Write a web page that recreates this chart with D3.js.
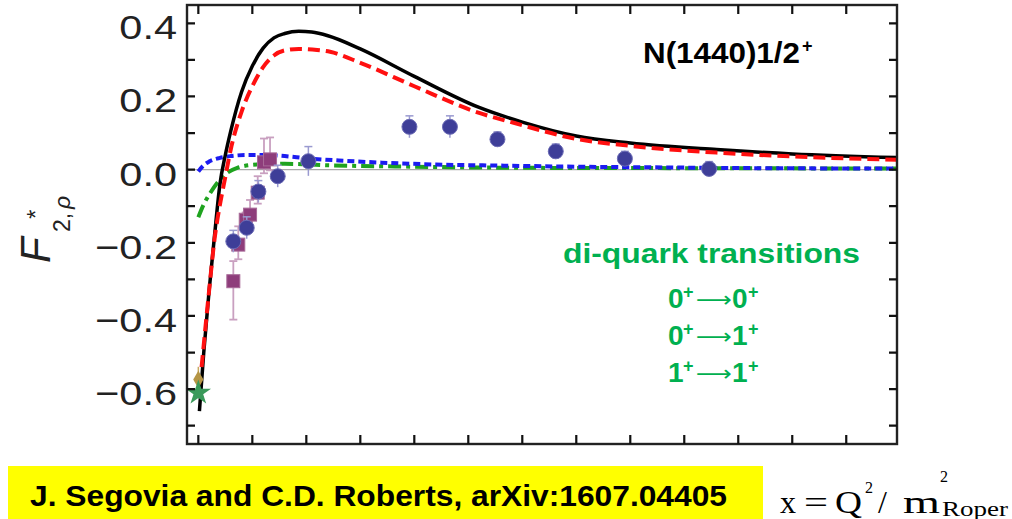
<!DOCTYPE html>
<html><head><meta charset="utf-8">
<script src="https://cdn.jsdelivr.net/npm/d3@7"></script>
<style>html,body{margin:0;padding:0;background:#fff;}svg{display:block;}</style>
</head><body>
<script>
// ---------- data ----------
const xTicks = [0,0.5,1,1.5,2,2.5,3,3.5,4,4.5,5,5.5,6];
const yTicks = [-0.7,-0.6,-0.5,-0.4,-0.3,-0.2,-0.1,0,0.1,0.2,0.3,0.4];
const yTickLabels = [0.4,0.2,0.0,-0.2,-0.4,-0.6];

const blackX = [0.01,0.05,0.1,0.15,0.2,0.25,0.3,0.4,0.5,0.6,0.7,0.8,0.93,1.05,1.2,1.5,2.0,2.6,3.0,3.5,4.0,4.8,5.5,6.47];
const blackY = [-0.66,-0.50,-0.33,-0.18,-0.04,0.04,0.105,0.212,0.283,0.332,0.36,0.372,0.378,0.376,0.366,0.33,0.255,0.17,0.13,0.092,0.073,0.055,0.043,0.033];

const redX = [0.03,0.1,0.15,0.2,0.25,0.3,0.4,0.5,0.6,0.7,0.8,0.93,1.1,1.22,1.5,2.0,2.6,2.92,3.5,4.0,4.83,5.5,6.47];
const redY = [-0.54,-0.33,-0.19,-0.096,-0.02,0.055,0.158,0.228,0.28,0.312,0.326,0.330,0.327,0.322,0.292,0.228,0.155,0.128,0.084,0.065,0.046,0.036,0.027];

const blueX = [0,0.05,0.1,0.2,0.3,0.45,0.6,0.8,1.0,1.3,1.7,2.2,2.8,3.5,4.3,5.2,6.47];
const blueY = [-0.005,0.012,0.022,0.032,0.037,0.040,0.040,0.037,0.031,0.025,0.019,0.014,0.011,0.008,0.006,0.004,0.003];

const greenX = [0,0.05,0.11,0.23,0.36,0.54,0.8,1.2,2.0,3.0,4.5,6.47];
const greenY = [-0.13,-0.095,-0.064,-0.018,0.005,0.014,0.016,0.012,0.008,0.005,0.004,0.003];

const circleX = [0.324,0.448,0.556,0.735,1.019,1.955,2.33,2.77,3.31,3.95,4.73];
const circleY = [-0.196,-0.159,-0.060,-0.018,0.023,0.117,0.117,0.083,0.050,0.030,0.002];
const circleErr = [0.03,0.03,0.03,0.03,0.04,0.03,0.03,0.02,0.02,0.02,0.02];

const squareX = [0.324,0.370,0.439,0.479,0.550,0.608,0.664];
const squareY = [-0.305,-0.205,-0.137,-0.123,-0.063,0.020,0.028];
const squareErrUp = [0.055,0.05,0.02,0.04,0.045,0.065,0.06];
const squareErrDown = [0.105,0.04,0.02,0.03,0.03,0.03,0.03];

const photonX = [0,0];
const photonY = [-0.574,-0.610];

const titleText = "N(1440)1/2";
const diquarkTitle = "di-quark transitions";
const diquarkLines = [["0","0"],["0","1"],["1","1"]];
const citation = "J. Segovia and C.D. Roberts, arXiv:1607.04405";

// ---------- layout ----------
const W = 1012, H = 519;
const svg = d3.select("body").append("svg").attr("width", W).attr("height", H);

const x = d3.scaleLinear().domain([-0.105, 6.47]).range([187, 897]);
const y = d3.scaleLinear().domain([-0.75, 0.45]).range([444, 5]);
const [X0, X1] = x.range(), [Y0, Y1] = y.range();

svg.append("defs").append("clipPath").attr("id","clip")
  .append("rect").attr("x",X0).attr("y",Y1).attr("width",X1-X0).attr("height",Y0-Y1);

// zero line
svg.append("line").attr("x1",X0).attr("x2",X1)
  .attr("y1",y(0)).attr("y2",y(0)).attr("stroke","#aaa").attr("stroke-width",1.2);

// y tick labels
const fmt = d3.format(".1f");
svg.append("g").selectAll("text").data(yTickLabels).join("text")
  .attr("transform", d => `translate(177,${y(d)+16}) scale(1.22,1)`)
  .attr("text-anchor","end")
  .attr("font-family","Liberation Sans, Arial, sans-serif")
  .attr("font-size",34).attr("fill","#222")
  .text(d => fmt(d));

// y axis title (rotated)
const yt = svg.append("g").attr("transform","translate(50,263) rotate(-90)")
  .attr("font-family","Liberation Sans, Arial, sans-serif").attr("fill","#222");
yt.append("text").attr("x",0).attr("y",0).attr("font-size",42).attr("font-style","italic").text("F");
yt.append("text").attr("x",44).attr("y",-6).attr("font-size",24).text("*");
yt.append("text").attr("x",31).attr("y",20).attr("font-size",23).text("2,");
yt.append("text").attr("x",54).attr("y",20).attr("font-size",23).attr("font-style","italic").text("ρ");

// curves
const plot = svg.append("g").attr("clip-path","url(#clip)");
function pts(xs, ys){ return xs.map((v,i)=>[v, ys[i]]); }
const line = d3.line().x(d=>x(d[0])).y(d=>y(d[1])).curve(d3.curveMonotoneX);

plot.append("path").datum(pts(greenX,greenY)).attr("d",line).attr("fill","none")
  .attr("stroke","#1fa31f").attr("stroke-width",4).attr("stroke-dasharray","13,5,4,5");
plot.append("path").datum(pts(blueX,blueY)).attr("d",line).attr("fill","none")
  .attr("stroke","#1c1cf0").attr("stroke-width",4).attr("stroke-dasharray","7,4");
plot.append("path").datum(pts(blackX,blackY)).attr("d",line).attr("fill","none")
  .attr("stroke","#000").attr("stroke-width",3.5);
plot.append("path").datum(pts(redX,redY)).attr("d",line).attr("fill","none")
  .attr("stroke","#ff1010").attr("stroke-width",4).attr("stroke-dasharray","12,6");

// photon-point markers
const ph = svg.append("g");
ph.append("line").attr("x1",x(0)).attr("x2",x(0)).attr("y1",y(photonY[0]+0.035)).attr("y2",y(photonY[0]-0.03))
  .attr("stroke","#c8a860").attr("stroke-width",1.5);
ph.append("path").attr("d", d3.symbol(d3.symbolDiamond, 90)())
  .attr("transform",`translate(${x(photonX[0])},${y(photonY[0])})`).attr("fill","#b59545");
ph.append("path").attr("d", d3.symbol(d3.symbolStar, 200)())
  .attr("transform",`translate(${x(photonX[1])},${y(photonY[1])})`).attr("fill","#3a9a5a");

// squares with error bars
const sq = svg.append("g");
squareX.forEach((sx,i)=>{
  const cx = x(sx), top = y(squareY[i]+squareErrUp[i]), bot = y(squareY[i]-squareErrDown[i]);
  sq.append("line").attr("x1",cx).attr("x2",cx).attr("y1",top).attr("y2",bot).attr("stroke","#c9a0c0").attr("stroke-width",1.8);
  [top,bot].forEach(v=>sq.append("line").attr("x1",cx-4).attr("x2",cx+4).attr("y1",v).attr("y2",v).attr("stroke","#c9a0c0").attr("stroke-width",1.8));
});
// circles with error bars
const ci = svg.append("g");
circleX.forEach((cxv,i)=>{
  const cx = x(cxv), top = y(circleY[i]+circleErr[i]), bot = y(circleY[i]-circleErr[i]);
  ci.append("line").attr("x1",cx).attr("x2",cx).attr("y1",top).attr("y2",bot).attr("stroke","#9a9ad0").attr("stroke-width",1.5);
  ci.append("line").attr("x1",cx-4).attr("x2",cx+4).attr("y1",top).attr("y2",top).attr("stroke","#9a9ad0").attr("stroke-width",1.5);
});
ci.selectAll("circle").data(circleX).join("circle")
  .attr("cx",d=>x(d)).attr("cy",(d,i)=>y(circleY[i])).attr("r",7.5)
  .attr("fill","#3e3e98").attr("stroke","#6b6bb5").attr("stroke-width",1);
sq.selectAll("rect").data(squareX).join("rect")
  .attr("x",d=>x(d)-6.5).attr("y",(d,i)=>y(squareY[i])-6.5).attr("width",13).attr("height",13)
  .attr("fill","#8e3d7b").attr("stroke","#a86a98").attr("stroke-width",1);

// title
svg.append("text").attr("x",643).attr("y",63).attr("font-family","Liberation Sans, Arial, sans-serif")
  .attr("font-weight","bold").attr("font-size",30).attr("textLength",157).attr("lengthAdjust","spacingAndGlyphs")
  .attr("fill","#000").text(titleText);
svg.append("text").attr("x",802).attr("y",52).attr("font-family","Liberation Sans, Arial, sans-serif")
  .attr("font-weight","bold").attr("font-size",18).attr("fill","#000").text("+");

// di-quark legend text
const green = "#00b050";
svg.append("text").attr("x",563).attr("y",263).attr("font-family","Liberation Sans, Arial, sans-serif")
  .attr("font-weight","bold").attr("font-size",28).attr("textLength",297).attr("lengthAdjust","spacingAndGlyphs")
  .attr("fill",green).text(diquarkTitle);
diquarkLines.forEach((pr,i)=>{
  const by = 308 + i*37;
  const g = svg.append("g").attr("fill",green).attr("font-family","Liberation Sans, Arial, sans-serif");
  g.append("text").attr("x",668).attr("y",by).attr("font-weight","bold").attr("font-size",28).text(pr[0]);
  g.append("text").attr("x",683).attr("y",by-10).attr("font-weight","bold").attr("font-size",18).text("+");
  g.append("text").attr("x",696).attr("y",by-1).attr("font-family","DejaVu Sans, sans-serif").attr("font-size",22)
    .attr("textLength",36).attr("lengthAdjust","spacingAndGlyphs").text("⟶");
  g.append("text").attr("x",732).attr("y",by).attr("font-weight","bold").attr("font-size",28).text(pr[1]);
  g.append("text").attr("x",748).attr("y",by-10).attr("font-weight","bold").attr("font-size",18).text("+");
});

// frame
svg.append("rect").attr("x",X0).attr("y",Y1).attr("width",X1-X0).attr("height",Y0-Y1)
  .attr("fill","none").attr("stroke","#222").attr("stroke-width",2.4);

// ticks (inside, all four sides) as one path, drawn on top
let td = "";
xTicks.forEach(v => { const px = x(v); td += `M${px},${Y0}V${Y0-9}M${px},${Y1}V${Y1+9}`; });
yTicks.forEach(v => { const py = y(v); td += `M${X0},${py}H${X0+8}M${X1},${py}H${X1-8}`; });
svg.append("path").attr("d", td).attr("fill","none").attr("stroke","#111").attr("stroke-width",2.2);

// citation box
svg.append("rect").attr("x",8).attr("y",466).attr("width",755).attr("height",60).attr("fill","#ffff00");
svg.append("text").attr("x",30).attr("y",506).attr("font-family","Liberation Sans, Arial, sans-serif")
  .attr("font-weight","bold").attr("font-size",30).attr("textLength",697).attr("lengthAdjust","spacingAndGlyphs")
  .attr("fill","#000").text(citation);

// formula
const fg = svg.append("g").attr("font-family","Liberation Serif, Times New Roman, serif").attr("fill","#000");
fg.append("text").attr("x",780).attr("y",513).attr("font-size",32).text("x");
fg.append("text").attr("x",804).attr("y",513).attr("font-size",32).attr("textLength",24).attr("lengthAdjust","spacingAndGlyphs").text("=");
fg.append("text").attr("x",835).attr("y",513).attr("font-size",32).attr("textLength",27).attr("lengthAdjust","spacingAndGlyphs").text("Q");
fg.append("text").attr("x",865).attr("y",493).attr("font-size",16).text("2");
fg.append("text").attr("x",878).attr("y",513).attr("font-size",32).text("/");
fg.append("text").attr("x",903).attr("y",513).attr("font-size",32).attr("textLength",37).attr("lengthAdjust","spacingAndGlyphs").text("m");
fg.append("text").attr("x",940).attr("y",482).attr("font-size",16).text("2");
fg.append("text").attr("x",942).attr("y",516).attr("font-size",20).attr("textLength",66).attr("lengthAdjust","spacingAndGlyphs").text("Roper");
</script>
</body></html>
